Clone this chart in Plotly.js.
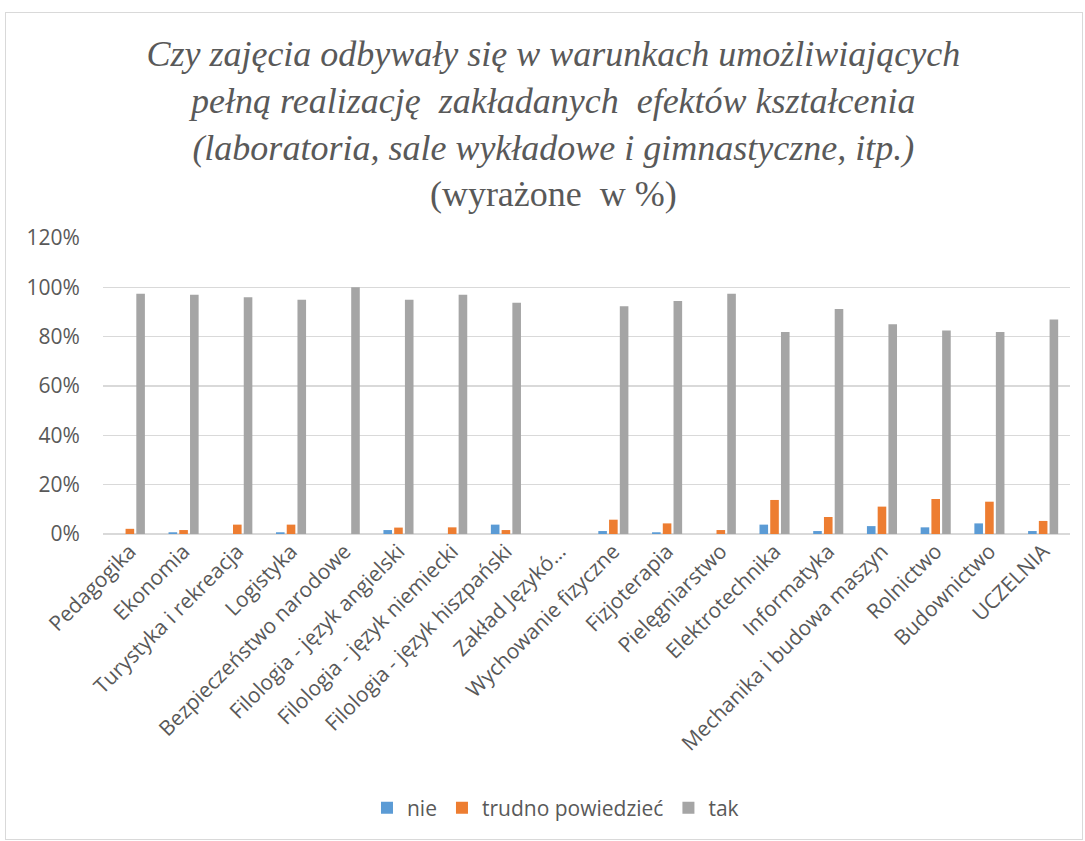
<!DOCTYPE html>
<html>
<head>
<meta charset="utf-8">
<script src="https://cdn.plot.ly/plotly-3.0.1.min.js"></script>
<style>
  body { margin: 0; background: #fff; }
  #wrap { position: relative; width: 1085px; height: 841px; }
  #chart { width: 1085px; height: 841px; }
  #frame { position: absolute; left: 5px; top: 12px; width: 1076px; height: 826px;
           border: 1px solid #d9d9d9; pointer-events: none; }
</style>
</head>
<body>
<div id="wrap">
  <div id="chart"></div>
  <div id="frame"></div>
</div>
<script>
var kierunki = ['Pedagogika', 'Ekonomia', 'Turystyka i rekreacja', 'Logistyka',
  'Bezpieczeństwo narodowe', 'Filologia - język angielski', 'Filologia - język niemiecki',
  'Filologia - język hiszpański', 'Zakład Językó…', 'Wychowanie fizyczne', 'Fizjoterapia',
  'Pielęgniarstwo', 'Elektrotechnika', 'Informatyka', 'Mechanika i budowa maszyn',
  'Rolnictwo', 'Budownictwo', 'UCZELNIA'];

var nie = [0, 0.7, 0, 0.7, 0, 1.6, 0, 3.8, 0, 1.2, 0.7, 0, 3.8, 1.2, 3.2, 2.7, 4.3, 1.2];
var trudno = [2.1, 1.6, 3.8, 3.8, 0, 2.6, 2.7, 1.6, 0, 5.8, 4.3, 1.6, 13.8, 6.9, 11.1, 14.2, 13.1, 5.3];
var tak = [97.4, 97.0, 96.0, 95.0, 100, 95.0, 97.0, 93.8, 0, 92.3, 94.5, 97.4, 81.9, 91.2, 85.0, 82.5, 81.9, 87.0];

var yTicks = [0, 20, 40, 60, 80, 100, 120];
var yLabels = yTicks.map(function (v) { return v + '%'; });

var grey = '#595959';
var sans = 'Open Sans, sans-serif';

var data = [
  { type: 'bar', name: 'nie', x: kierunki, y: nie, marker: { color: '#5b9bd5' } },
  { type: 'bar', name: 'trudno powiedzieć', x: kierunki, y: trudno, marker: { color: '#ed7d31' } },
  { type: 'bar', name: 'tak', x: kierunki, y: tak, marker: { color: '#a5a5a5' } }
];

var layout = {
  width: 1085,
  height: 841,
  margin: { l: 103, r: 15, t: 238, b: 307 },
  paper_bgcolor: '#fff',
  plot_bgcolor: '#fff',
  barmode: 'group',
  bargap: 0.4,
  bargroupgap: 0.2,
  showlegend: true,
  hovermode: false,
  title: {
    text: '<i>Czy zajęcia odbywały się w warunkach umożliwiających</i><br>' +
          '<i>pełną realizację  zakładanych  efektów kształcenia</i><br>' +
          '<i>(laboratoria, sale wykładowe i gimnastyczne, itp.)</i><br>' +
          '(wyrażone  w %)',
    font: { family: 'Liberation Serif, serif', size: 36, color: grey },
    x: 0.51,
    xanchor: 'center',
    xref: 'container',
    y: 1 - 66 / 841,
    yanchor: 'top',
    yref: 'container'
  },
  xaxis: {
    type: 'category',
    tickangle: -45,
    tickfont: { family: sans, size: 21, color: grey },
    showline: false,
    showgrid: false,
    ticks: ''
  },
  yaxis: {
    range: [0, 120],
    tickvals: yTicks,
    ticktext: yLabels,
    tickfont: { family: sans, size: 21, color: grey },
    showgrid: true,
    gridcolor: '#d9d9d9',
    gridwidth: 1.5,
    zeroline: true,
    zerolinecolor: '#d9d9d9',
    zerolinewidth: 1.5,
    ticks: 'outside',
    ticklen: 18,
    tickcolor: 'rgba(0,0,0,0)',
    showline: false
  },
  legend: {
    orientation: 'h',
    x: 0.273,
    xanchor: 'left',
    y: (534 - 808) / 296,
    yanchor: 'middle',
    font: { family: sans, size: 21, color: grey }
  }
};

Plotly.newPlot('chart', data, layout, { displayModeBar: false, staticPlot: true });
</script>
</body>
</html>
